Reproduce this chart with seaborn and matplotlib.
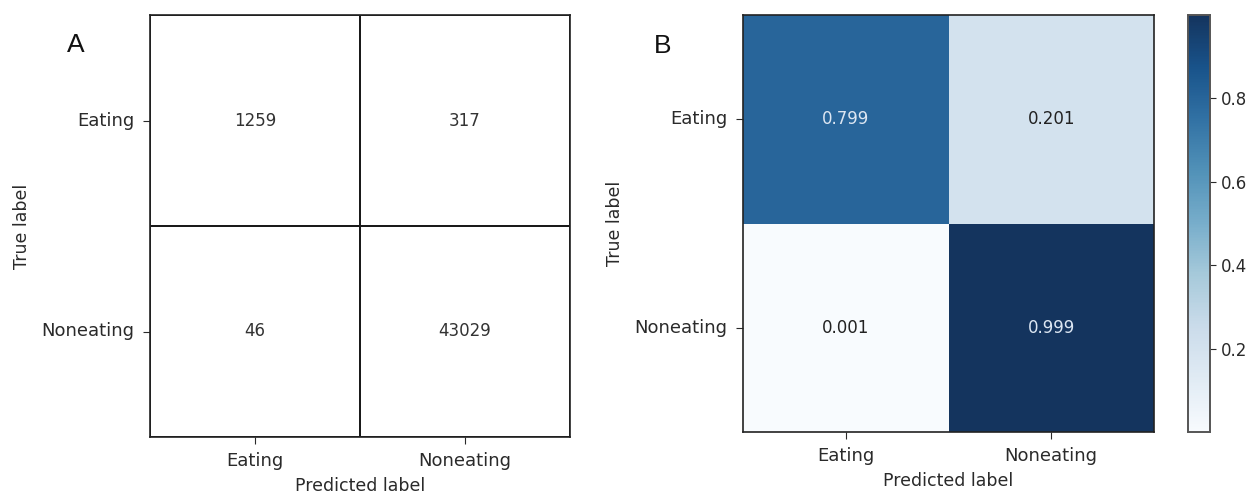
import numpy as np
import pandas as pd
import matplotlib
matplotlib.use("Agg")
import matplotlib.pyplot as plt
from matplotlib.colors import ListedColormap
import seaborn as sns

classes = ["Eating", "Noneating"]
counts = [[1259, 317],
          [46, 43029]]
normalized = [[0.799, 0.201],
              [0.001, 0.999]]
cbar_ticks = [0.2, 0.4, 0.6, 0.8]
panel_labels = ["A", "B"]

plt.rcParams["font.family"] = ["DejaVu Sans"]
text_color = "#2a2a2a"

# Blues, slightly washed out as in the reference image
base = plt.get_cmap("Blues")(np.linspace(0, 1, 256))
lum = (base[:, :3] @ np.array([0.299, 0.587, 0.114]))[:, None]
mixed = base.copy()
mixed[:, :3] = 0.8 * base[:, :3] + 0.2 * lum + np.array([0.02, 0.02, 0.0]) * np.linspace(0, 1, 256)[:, None]
mixed = np.clip(mixed, 0, 1)
blues_soft = ListedColormap(mixed)

fig = plt.figure(figsize=(12.52, 4.95), dpi=100)
axA = fig.add_axes([150 / 1252, 1 - 437 / 495, 420 / 1252, 422 / 495])
axB = fig.add_axes([743 / 1252, 1 - 432 / 495, 411 / 1252, 417 / 495])
cax = fig.add_axes([1188 / 1252, 1 - 432 / 495, 22 / 1252, 417 / 495])

dfA = pd.DataFrame(counts, index=classes, columns=classes)
dfB = pd.DataFrame(normalized, index=classes, columns=classes)

sns.heatmap(dfA, ax=axA, cmap=ListedColormap(["white"]), annot=True, fmt="d",
            cbar=False, linewidths=1.2, linecolor="#1a1a1a",
            annot_kws={"fontsize": 12, "color": "#333333"})
sns.heatmap(dfB, ax=axB, cmap=blues_soft, annot=True, fmt=".3f",
            cbar_ax=cax, vmin=0.001, vmax=0.999,
            annot_kws={"fontsize": 12})

for t in axB.texts:
    if t.get_text() in ("0.799", "0.999"):
        t.set_color("#dce6f2")
    else:
        t.set_color("#222222")

for ax in (axA, axB):
    for s in ax.spines.values():
        s.set_visible(True)
        s.set_color("#222222")
        s.set_linewidth(1.2)
    ax.set_xlabel("Predicted label", fontsize=12.5, color=text_color, labelpad=5)
    ax.set_ylabel("True label", fontsize=12.5, color=text_color, labelpad=8)
    ax.tick_params(axis="both", labelsize=13, colors=text_color, length=5, pad=6)
    ax.tick_params(axis="y", rotation=0)
    ax.tick_params(axis="x", rotation=0)

cax.set_yticks(cbar_ticks)
cax.set_yticklabels([f"{t:.1f}" for t in cbar_ticks])
cax.tick_params(labelsize=12, colors=text_color, length=4)
for s in cax.spines.values():
    s.set_visible(True)
    s.set_color("#555555")
    s.set_linewidth(1.2)

fig.text(76 / 1252, 1 - 45 / 495, panel_labels[0], fontsize=19,
         family=["Liberation Sans"], ha="center", va="center", color="#111111")
fig.text(663 / 1252, 1 - 46 / 495, panel_labels[1], fontsize=19,
         family=["Liberation Sans"], ha="center", va="center", color="#111111")

fig.savefig("out.png", dpi=100)
